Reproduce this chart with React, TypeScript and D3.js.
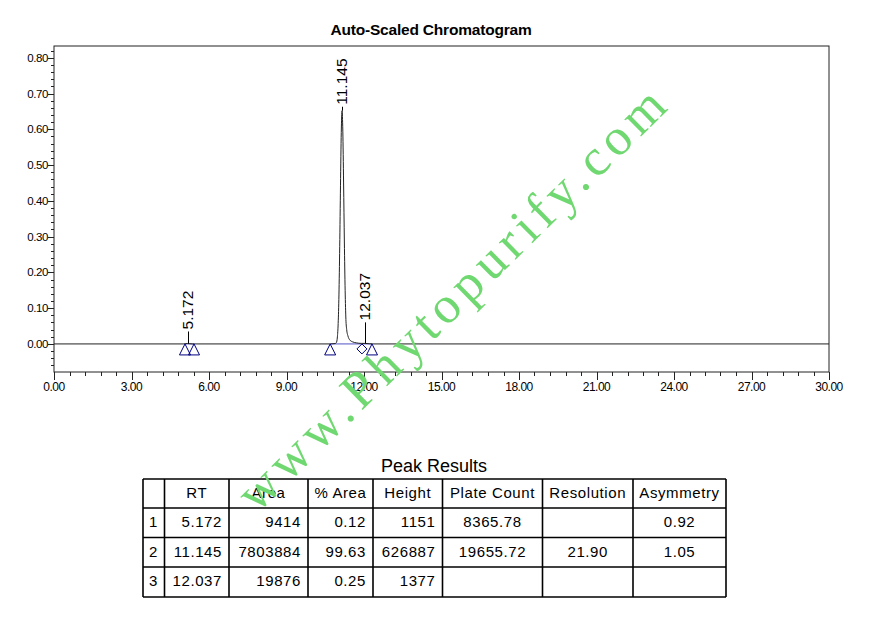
import React from "react";
import * as d3 from "d3";

// ---------- data ----------
const traceTime = [0, 5.0, 5.17, 5.35, 10.7, 10.88, 10.93, 10.97, 11.0, 11.03, 11.06, 11.09, 11.12, 11.15, 11.18, 11.21, 11.24, 11.27, 11.3, 11.33, 11.38, 11.45, 11.55, 11.7, 11.9, 12.04, 12.2, 12.35, 30];
const traceValue = [0, 0, 0.0012, 0, 0, 0.001, 0.0035, 0.0197, 0.057, 0.137, 0.272, 0.442, 0.591, 0.652, 0.595, 0.45, 0.285, 0.15, 0.068, 0.04, 0.022, 0.011, 0.006, 0.003, 0.0015, 0.0015, 0.0005, 0, 0];

const peakRT = [5.172, 11.145, 12.037];
const peakLabels = ["5.172", "11.145", "12.037"];
const peakApexValue = [0.0012, 0.652, 0.0015];

const markerTime = [5.07, 5.42, 10.69, 11.92, 12.31];
const markerShape = ["tri", "tri", "tri", "dia", "tri"];
const baselineStart = [5.07, 10.69];
const baselineEnd = [5.42, 12.31];

const xMajorTicks = [0, 3, 6, 9, 12, 15, 18, 21, 24, 27, 30];
const yMajorTicks = [0, 0.1, 0.2, 0.3, 0.4, 0.5, 0.6, 0.7, 0.8];

const tableHeaders = ["", "RT", "Area", "% Area", "Height", "Plate Count", "Resolution", "Asymmetry"];
const rowIndex = ["1", "2", "3"];
const rowRT = ["5.172", "11.145", "12.037"];
const rowArea = ["9414", "7803884", "19876"];
const rowPctArea = ["0.12", "99.63", "0.25"];
const rowHeight = ["1151", "626887", "1377"];
const rowPlateCount = ["8365.78", "19655.72", ""];
const rowResolution = ["", "21.90", ""];
const rowAsymmetry = ["0.92", "1.05", ""];

// ---------- layout / style ----------
const W = 869;
const H = 625;
const PL = 54, PR = 829, PT = 46, PB = 372;
const FONT = "'Liberation Sans', Arial, sans-serif";
const labelGap = [12, 4, 21];
const colEdges = [143, 164.5, 229, 308, 373, 442.5, 542.5, 633, 726];
const rowEdges = [479, 508, 537.5, 567, 597];
const colAlign = ["start", "end", "end", "end", "end", "middle", "middle", "middle"];

export default function App() {
  const x = d3.scaleLinear().domain([0, 30]).range([PL, PR]);
  const y = d3.scaleLinear().domain([-0.0785, 0.833]).range([PB, PT]);

  const pts: [number, number][] = traceTime.map((t, i) => [t, traceValue[i]]);
  const line = d3
    .line<[number, number]>()
    .x((d) => x(d[0]))
    .y((d) => y(d[1]))
    .curve(d3.curveMonotoneX);

  const xMinor = d3.range(0, 51).map((i) => i * 0.6);
  const yMinor = d3.range(-3, 42).map((i) => i * 0.02);
  const fmt = d3.format(".2f");
  const y0 = y(0);

  const cols = [rowIndex, rowRT, rowArea, rowPctArea, rowHeight, rowPlateCount, rowResolution, rowAsymmetry];

  const cellX = (c: number) => {
    const a = colAlign[c];
    if (a === "start") return colEdges[c] + 6;
    if (a === "end") return colEdges[c + 1] - 7;
    return (colEdges[c] + colEdges[c + 1]) / 2;
  };

  return (
    <svg
      width={W}
      height={H}
      style={{ position: "absolute", left: 0, top: 0, background: "#fff" }}
      fontFamily={FONT}
    >
      <rect x={0} y={0} width={W} height={H} fill="#fff" />
      {/* title */}
      <text x={431} y={35} textAnchor="middle" fontSize={15.5} fontWeight="bold" letterSpacing={-0.2} fill="#000">
        Auto-Scaled Chromatogram
      </text>

      {/* frame */}
      <rect x={PL} y={PT} width={PR - PL} height={PB - PT} fill="none" stroke="#222" strokeWidth={1} />

      {/* y ticks */}
      {yMinor.map((v, i) => (
        <line key={"ym" + i} x1={PL - 3} x2={PL} y1={Math.round(y(v)) + 0.5} y2={Math.round(y(v)) + 0.5} stroke="#222" />
      ))}
      {yMajorTicks.map((v, i) => (
        <g key={"yM" + i}>
          <line x1={PL - 6} x2={PL} y1={Math.round(y(v)) + 0.5} y2={Math.round(y(v)) + 0.5} stroke="#222" />
          <text x={PL - 6} y={y(v)} dy="0.35em" textAnchor="end" fontSize={11.5} letterSpacing={-0.4} fill="#000">
            {fmt(v)}
          </text>
        </g>
      ))}

      {/* x ticks */}
      {xMinor.map((v, i) => (
        <line key={"xm" + i} x1={Math.round(x(v)) + 0.5} x2={Math.round(x(v)) + 0.5} y1={PB} y2={PB + 4} stroke="#222" />
      ))}
      {xMajorTicks.map((v, i) => (
        <g key={"xM" + i}>
          <line x1={Math.round(x(v)) + 0.5} x2={Math.round(x(v)) + 0.5} y1={PB} y2={PB + 8} stroke="#222" />
          <text x={x(v)} y={390.5} textAnchor="middle" fontSize={12} letterSpacing={-0.5} fill="#000">
            {fmt(v)}
          </text>
        </g>
      ))}

      {/* baselines */}
      {baselineStart.map((s, i) => (
        <line key={"bl" + i} x1={x(s)} x2={x(baselineEnd[i])} y1={y0} y2={y0} stroke="#5050c8" strokeWidth={1} />
      ))}

      {/* trace */}
      <path d={line(pts) || ""} fill="none" stroke="#222" strokeWidth={1} />

      {/* markers */}
      {markerTime.map((t, i) => {
        const mx = x(t);
        if (markerShape[i] === "tri") {
          return (
            <path
              key={"mk" + i}
              d={`M${mx},${y0} L${mx + 5.5},${y0 + 11} L${mx - 5.5},${y0 + 11} Z`}
              fill="none"
              stroke="#000080"
              strokeWidth={1}
            />
          );
        }
        return (
          <path
            key={"mk" + i}
            d={`M${mx},${y0} L${mx + 5},${y0 + 5} L${mx},${y0 + 10} L${mx - 5},${y0 + 5} Z`}
            fill="none"
            stroke="#000080"
            strokeWidth={1}
          />
        );
      })}

      {/* peak labels */}
      {peakRT.map((t, i) => {
        const px = x(t);
        const py = y(peakApexValue[i]);
        const top = py - labelGap[i];
        return (
          <g key={"pl" + i}>
            <line x1={Math.round(px) + 0.5} x2={Math.round(px) + 0.5} y1={py} y2={top} stroke="#000" />
            <text
              transform={`translate(${px},${top - 2}) rotate(-90)`}
              textAnchor="start"
              dy="0.35em"
              fontSize={15.5}
              fill="#000"
            >
              {peakLabels[i]}
            </text>
          </g>
        );
      })}

      {/* table */}
      <text x={434} y={472} textAnchor="middle" fontSize={18} fill="#000">
        Peak Results
      </text>
      {colEdges.map((cx, i) => (
        <line key={"cv" + i} x1={cx} x2={cx} y1={rowEdges[0]} y2={rowEdges[rowEdges.length - 1]} stroke="#000" strokeWidth={1.6} />
      ))}
      {rowEdges.map((ry, i) => (
        <line key={"rh" + i} x1={colEdges[0]} x2={colEdges[colEdges.length - 1]} y1={ry} y2={ry} stroke="#000" strokeWidth={1.6} />
      ))}
      {tableHeaders.map((h, c) => (
        <text
          key={"th" + c}
          x={(colEdges[c] + colEdges[c + 1]) / 2}
          y={rowEdges[0] + 18.5}
          textAnchor="middle"
          fontSize={15}
          letterSpacing={0.6}
          fill="#000"
        >
          {h}
        </text>
      ))}
      {rowIndex.map((_, r) =>
        cols.map((col, c) => (
          <text
            key={`td${r}-${c}`}
            x={cellX(c)}
            y={rowEdges[r + 1] + 19}
            textAnchor={colAlign[c] as any}
            fontSize={15}
            letterSpacing={0.6}
            fill="#000"
          >
            {col[r]}
          </text>
        ))
      )}

      {/* watermark */}
      <text
        transform="translate(456,300) rotate(-44.5)"
        textAnchor="middle"
        dy={13}
        fontFamily="'Liberation Serif', 'Times New Roman', serif"
        fontSize={52}
        letterSpacing={6}
        fill="#70d870"
      >
        www.Phytopurify.com
      </text>
    </svg>
  );
}
